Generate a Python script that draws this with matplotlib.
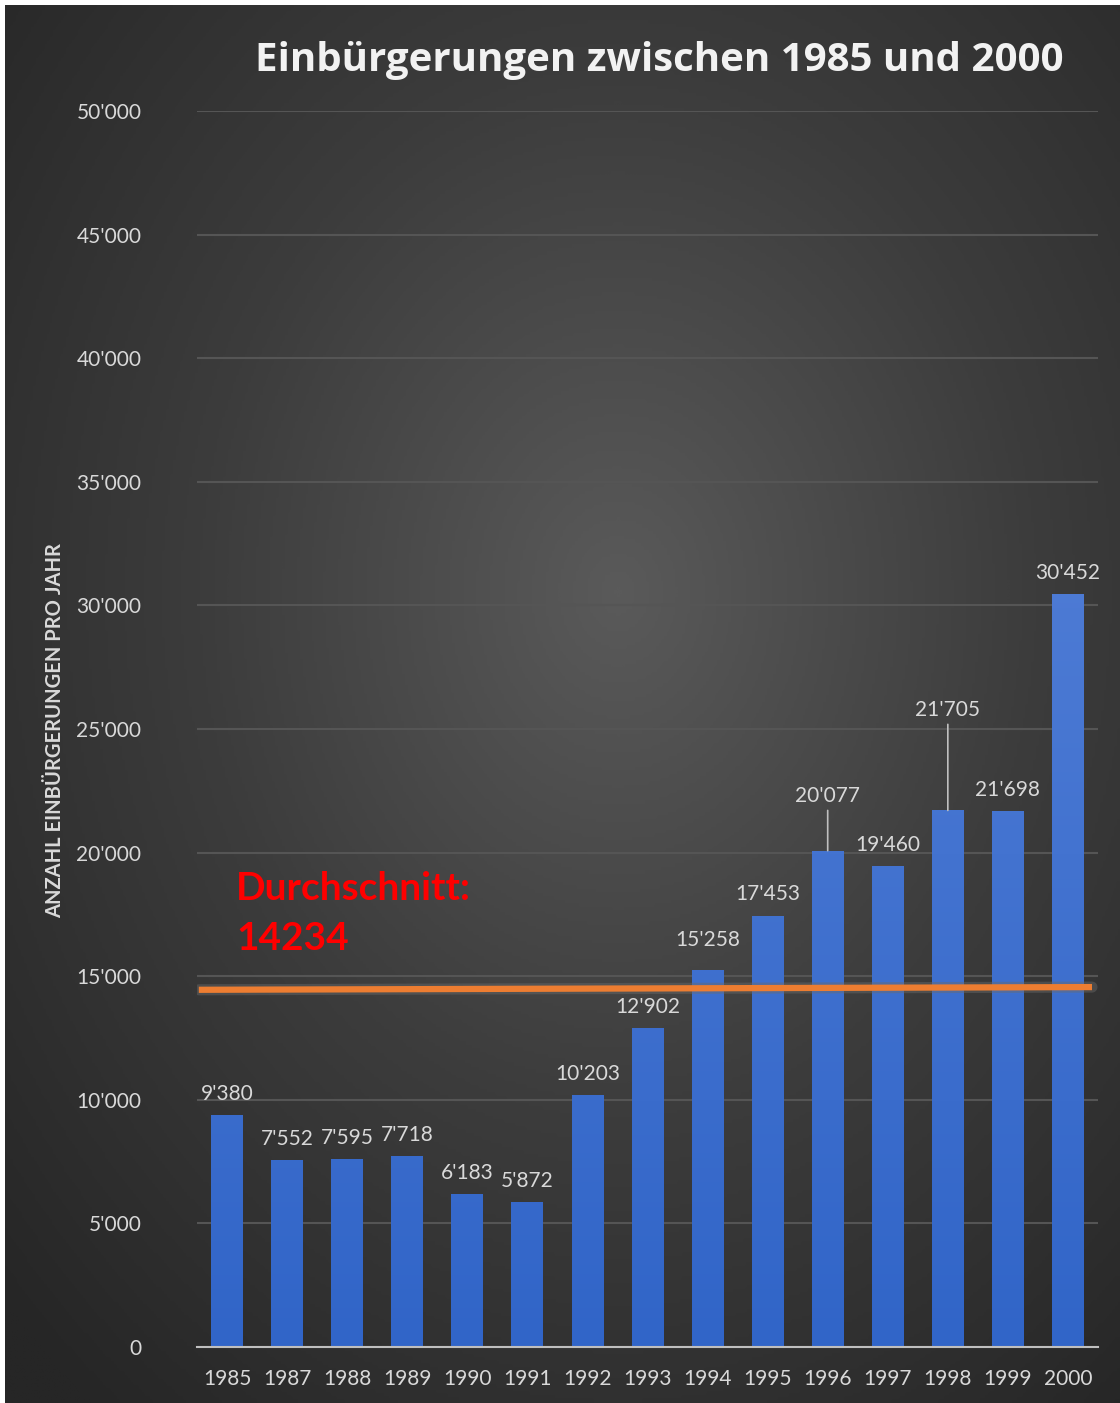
import numpy as np
import matplotlib
matplotlib.use("Agg")
import matplotlib.pyplot as plt
from matplotlib.colors import LinearSegmentedColormap

# data
years = ["1985", "1987", "1988", "1989", "1990", "1991", "1992", "1993",
         "1994", "1995", "1996", "1997", "1998", "1999", "2000"]
values = [9380, 7552, 7595, 7718, 6183, 5872, 10203, 12902,
          15258, 17453, 20077, 19460, 21705, 21698, 30452]
labels = ["9'380", "7'552", "7'595", "7'718", "6'183", "5'872", "10'203", "12'902",
          "15'258", "17'453", "20'077", "19'460", "21'705", "21'698", "30'452"]
# extra lift of some labels (in points); a leader line is drawn for the big ones
label_lift = [0, 0, 0, 0, 0, 0, 0, 0, 6, 0, 24, 0, 57, 0, 0]
avg_line_x = [-0.47, 14.4]
avg_line_y = [14450, 14560]
avg_text = "Durchschnitt:\n14234"
yticks = [0, 5000, 10000, 15000, 20000, 25000, 30000, 35000, 40000, 45000, 50000]
ytick_labels = ["0", "5'000", "10'000", "15'000", "20'000", "25'000",
                "30'000", "35'000", "40'000", "45'000", "50'000"]

W, H = 1120, 1403
fig = plt.figure(figsize=(W / 100, H / 100), dpi=100, facecolor="white")

# dark radial-gradient panel
bg = fig.add_axes([5 / W, 0, (W - 5) / W, (H - 5) / H])
bg.set_axis_off()
yy, xx = np.mgrid[0:1:400j, 0:1:400j]
r = np.sqrt(((xx - 0.55) / 0.75) ** 2 + ((yy - 0.58) / 0.75) ** 2)
bg_cmap = LinearSegmentedColormap.from_list("bg", ["#5a5a5a", "#3c3c3c", "#262626"])
bg.imshow(np.clip(r, 0, 1), cmap=bg_cmap, extent=[0, 1, 0, 1], aspect="auto", origin="lower")
bg.set_xlim(0, 1)
bg.set_ylim(0, 1)

ax = fig.add_axes([197 / W, 1 - 1347 / H, 901 / W, 1236 / H])
ax.patch.set_alpha(0)
x = np.arange(len(years))
bars = ax.bar(x, values, width=0.53, color="#4472c4", zorder=3)

# vertical gradient on each bar
bar_cmap = LinearSegmentedColormap.from_list("bar", ["#3165c8", "#5e88dc"])
grad = np.linspace(0, 1, 256).reshape(-1, 1)
for b in bars:
    bx, bw = b.get_x(), b.get_width()
    im = ax.imshow(grad, cmap=bar_cmap, extent=[bx, bx + bw, 0, 50000],
                   aspect="auto", origin="lower", zorder=3.5)
    im.set_clip_path(b)

ax.set_xlim(-0.5, 14.5)
ax.set_ylim(0, 50000)
ax.set_yticks(yticks)
ax.set_yticklabels(ytick_labels)
ax.set_xticks(x)
ax.set_xticklabels(years)
ax.tick_params(axis="y", length=0, pad=40, labelsize=15, labelcolor="#d9d9d9")
ax.tick_params(axis="x", length=0, pad=16, labelsize=15, labelcolor="#d9d9d9")
for t in ax.get_xticklabels() + ax.get_yticklabels():
    t.set_fontfamily("Lato")
ax.grid(axis="y", color="#555555", linewidth=1.5, zorder=0)
for s in ["top", "right", "left"]:
    ax.spines[s].set_visible(False)
ax.spines["bottom"].set_color("#bfbfbf")
ax.spines["bottom"].set_linewidth(1.5)
ax.spines["bottom"].set_zorder(5)

# data labels
for i, (v, lab) in enumerate(zip(values, labels)):
    lift = label_lift[i]
    ax.annotate(lab, (i, v), xytext=(0, 8 + lift), textcoords="offset points",
                ha="center", va="bottom", fontsize=15, color="#d9d9d9",
                family="Lato", zorder=6)
    if lift > 10:
        ax.annotate("", (i, v), xytext=(0, lift + 5), textcoords="offset points",
                    arrowprops=dict(arrowstyle="-", color="#bfbfbf", lw=1.2,
                                    shrinkA=0, shrinkB=0), zorder=6)

# average line
ax.plot(avg_line_x, avg_line_y, color="#6a6a6a", alpha=0.45, linewidth=8,
        solid_capstyle="round", zorder=4)
ax.plot(avg_line_x, avg_line_y, color="#ed7d31", linewidth=4.5, solid_capstyle="butt", zorder=4.5)
ax.text(0.15, 19250, avg_text, color="#ff0000", fontsize=28, fontweight="bold",
        family="Lato", ha="left", va="top", linespacing=1.5, zorder=6)

fig.text(659 / W, 1 - 60 / H, "Einbürgerungen zwischen 1985 und 2000", color="#f2f2f2",
         fontsize=29, fontweight="bold", family="Open Sans", ha="center", va="center")
fig.text(55 / W, 1 - 731 / H, "ANZAHL EINBÜRGERUNGEN PRO JAHR", color="#d9d9d9",
         fontsize=14.5, fontweight="bold", family="Lato", rotation=90, ha="center", va="center")

fig.savefig("out.png", dpi=100, facecolor="white")
